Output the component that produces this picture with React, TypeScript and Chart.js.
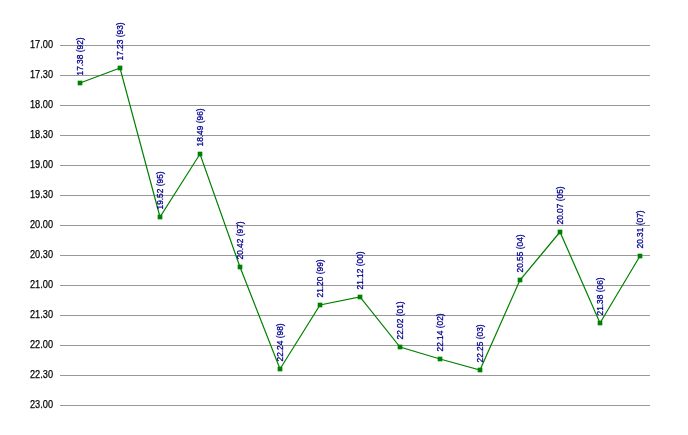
import React, { useEffect, useRef } from "react";
import { Chart, registerables } from "chart.js";

Chart.register(...registerables);

// Race times (minutes.seconds) and seasons
const years = ["92", "93", "95", "96", "97", "98", "99", "00", "01", "02", "03", "04", "05", "06", "07"];
const times = ["17.38", "17.23", "19.52", "18.49", "20.42", "22.24", "21.20", "21.12", "22.02", "22.14", "22.25", "20.55", "20.07", "21.38", "20.31"];
const yMin = 17;
const yMax = 23;
const yStep = 0.5;

const FONT = '"Liberation Sans", Arial, sans-serif';

const toMinutes = (t: string) => {
  const [m, s] = t.split(".");
  return parseInt(m, 10) + parseInt(s, 10) / 60;
};

const fmtTick = (v: number) => {
  let m = Math.floor(v + 1e-9);
  let s = Math.round((v - m) * 60);
  if (s === 60) { m += 1; s = 0; }
  return `${m}.${s < 10 ? "0" + s : s}`;
};

const labelPlugin = {
  id: "vlabels",
  afterDatasetsDraw(chart: any) {
    const ctx = chart.ctx;
    const meta = chart.getDatasetMeta(0);
    ctx.save();
    ctx.fillStyle = "#000090";
    ctx.strokeStyle = "#000090";
    ctx.lineWidth = 0.3;
    ctx.font = `9.6px ${FONT}`;
    ctx.textAlign = "left";
    ctx.textBaseline = "middle";
    meta.data.forEach((pt: any, i: number) => {
      ctx.save();
      ctx.translate(pt.x + 0.8, pt.y - 7.5);
      ctx.rotate(-Math.PI / 2);
      ctx.scale(0.87, 1);
      const txt = `${times[i]} (${years[i]})`;
      ctx.fillText(txt, 0, 0);
      ctx.strokeText(txt, 0, 0);
      ctx.restore();
    });
    ctx.restore();
  },
};

const tickPlugin = {
  id: "yticks",
  afterDraw(chart: any) {
    const ctx = chart.ctx;
    const scale = chart.scales.y;
    ctx.save();
    ctx.fillStyle = "#000000";
    ctx.strokeStyle = "#000000";
    ctx.lineWidth = 0.25;
    ctx.font = `11.5px ${FONT}`;
    ctx.textAlign = "right";
    ctx.textBaseline = "middle";
    scale.ticks.forEach((t: any) => {
      const y = scale.getPixelForValue(t.value);
      ctx.save();
      ctx.translate(chart.chartArea.left - 7, y);
      ctx.scale(0.8, 1);
      const txt = fmtTick(t.value);
      ctx.fillText(txt, 0, 0);
      ctx.strokeText(txt, 0, 0);
      ctx.restore();
    });
    ctx.restore();
  },
};

const bgPlugin = {
  id: "bg",
  beforeDraw(chart: any) {
    const ctx = chart.ctx;
    ctx.save();
    ctx.fillStyle = "#ffffff";
    ctx.fillRect(0, 0, chart.width, chart.height);
    ctx.restore();
  },
};

export default function App() {
  const ref = useRef<HTMLCanvasElement | null>(null);
  useEffect(() => {
    document.body.style.margin = "0";
    if (!ref.current) return;
    const chart = new Chart(ref.current, {
      type: "line",
      data: {
        datasets: [
          {
            data: times.map((t, i) => ({ x: i, y: toMinutes(t) })),
            borderColor: "#008000",
            backgroundColor: "#008000",
            borderWidth: 1.2,
            pointStyle: "rect",
            pointRadius: 3.3,
            pointBorderWidth: 0,
            pointBackgroundColor: "#008000",
            tension: 0,
          },
        ],
      },
      options: {
        animation: false,
        responsive: false,
        layout: { padding: { top: 45, right: 38, bottom: 30, left: 0 } },
        plugins: { legend: { display: false }, tooltip: { enabled: false } },
        scales: {
          x: { type: "linear", display: false, min: -0.5, max: 14.25 },
          y: {
            type: "linear",
            reverse: true,
            min: yMin,
            max: yMax,
            afterFit: (s: any) => { s.width = 60; },
            border: { display: false },
            grid: { color: "#999999", lineWidth: 1, drawTicks: false },
            ticks: {
              stepSize: yStep,
              padding: 7,
              color: "rgba(0,0,0,0)",
              font: { family: FONT, size: 11 },
              callback: (v: any) => fmtTick(Number(v)),
            },
          },
        },
      },
      plugins: [bgPlugin, labelPlugin, tickPlugin],
    });
    return () => chart.destroy();
  }, []);
  return (
    <div style={{ position: "fixed", left: 0, top: 0, width: 688, height: 435 }}>
      <canvas ref={ref} width={688} height={435} style={{ display: "block" }} />
    </div>
  );
}
